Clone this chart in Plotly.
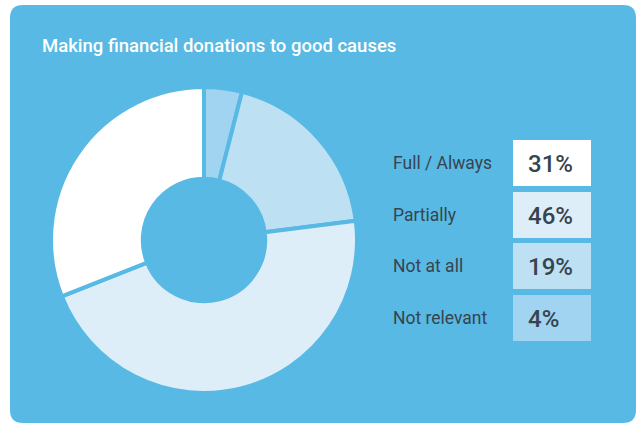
import plotly.graph_objects as go

# Survey data
title = "Making financial donations to good causes"
categories = ["Not relevant", "Not at all", "Partially", "Full / Always"]
shares = [4, 19, 46, 31]
slice_colors = ["#A0D4F0", "#BDE1F3", "#DDEEF8", "#FFFFFF"]

# Legend order (top to bottom)
legend_order = ["Full / Always", "Partially", "Not at all", "Not relevant"]

W, H = 638, 423
BG = "#57B9E4"
INK = "#37444E"

fig = go.Figure()

# Donut, drawn clockwise from 12 o'clock
cx, cy, r = 204, 240, 153
fig.add_trace(go.Pie(
    values=shares,
    labels=categories,
    sort=False,
    direction="clockwise",
    rotation=0,
    hole=0.4,
    marker=dict(colors=slice_colors, line=dict(color=BG, width=4)),
    textinfo="none",
    hoverinfo="label+percent",
    showlegend=False,
    domain=dict(x=[(cx - r) / W, (cx + r) / W], y=[1 - (cy + r) / H, 1 - (cy - r) / H]),
))

# Hidden pixel-space axes for the card and the value boxes
fig.update_xaxes(range=[0, W], visible=False, fixedrange=True)
fig.update_yaxes(range=[H, 0], visible=False, fixedrange=True)

# Rounded card background
x0, y0, x1, y1, rc = 10, 5, 636, 423, 13
card = (f"M{x0 + rc},{y0} L{x1 - rc},{y0} Q{x1},{y0} {x1},{y0 + rc} "
        f"L{x1},{y1 - rc} Q{x1},{y1} {x1 - rc},{y1} L{x0 + rc},{y1} "
        f"Q{x0},{y1} {x0},{y1 - rc} L{x0},{y0 + rc} Q{x0},{y0} {x0 + rc},{y0} Z")
shapes = [dict(type="path", path=card, xref="x", yref="y", layer="below",
               fillcolor=BG, line=dict(width=0))]

annotations = [dict(text=title, x=40, y=46, xref="x", yref="y", xanchor="left",
                    yanchor="middle", showarrow=False,
                    font=dict(family="Roboto", size=18.5, color="white", weight=500))]

box_x0, box_x1 = 513, 591
box_tops = [140, 192, 243, 295]
box_h = 46
for name, top in zip(legend_order, box_tops):
    i = categories.index(name)
    shapes.append(dict(type="rect", xref="x", yref="y", x0=box_x0, x1=box_x1,
                       y0=top, y1=top + box_h, fillcolor=slice_colors[i],
                       line=dict(width=0), layer="above"))
    mid = top + box_h / 2
    annotations.append(dict(text=name, x=391, y=mid, xref="x", yref="y",
                            xanchor="left", yanchor="middle", showarrow=False,
                            font=dict(family="Roboto", size=17.5, color=INK)))
    annotations.append(dict(text=f"{shares[i]}%", x=526, y=mid + 1, xref="x", yref="y",
                            xanchor="left", yanchor="middle", showarrow=False,
                            font=dict(family="Roboto", size=24, color=INK, weight=500)))

fig.update_layout(
    width=W, height=H,
    margin=dict(l=0, r=0, t=0, b=0),
    paper_bgcolor="white",
    plot_bgcolor="rgba(0,0,0,0)",
    shapes=shapes,
    annotations=annotations,
)

fig.write_html("out.html")
